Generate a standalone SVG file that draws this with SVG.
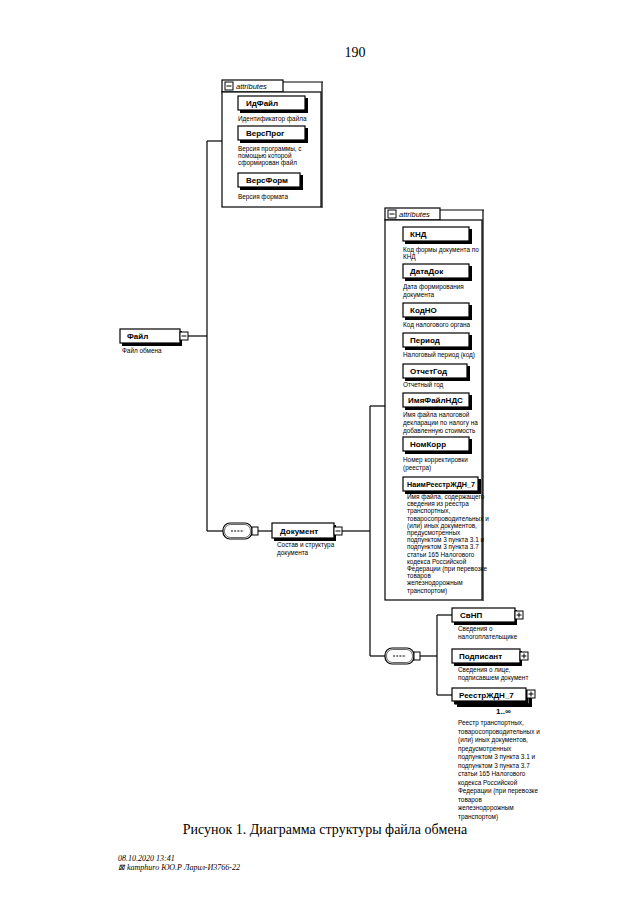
<svg xmlns="http://www.w3.org/2000/svg" width="640" height="905" viewBox="0 0 640 905">
<defs>
<style>
.bg{fill:#fff}
.ln{stroke:#000;stroke-width:1.2;fill:none}
.box{fill:#fff;stroke:#000;stroke-width:1.2}
.sh{fill:#000}
.lbl{font-family:"Liberation Sans",Arial,sans-serif;font-weight:bold;font-size:8px;fill:#000}
.desc{font-family:"Liberation Sans",Arial,sans-serif;font-size:6.4px;fill:#000}
.tab{font-family:"Liberation Sans",Arial,sans-serif;font-style:italic;font-size:7.5px;fill:#000}
.grp{fill:#fff;stroke:#000;stroke-width:1.2}
.serif{font-family:"Liberation Serif","Times New Roman",serif;fill:#000}
</style>
<g id="minus"><rect x="0" y="0" width="8" height="8" fill="#fff" stroke="#000" stroke-width="1"/><line x1="1.5" y1="4" x2="6.5" y2="4" stroke="#000" stroke-width="1"/></g>
<g id="plus"><rect x="0" y="0" width="8" height="8" fill="#fff" stroke="#000" stroke-width="1"/><line x1="1.5" y1="4" x2="6.5" y2="4" stroke="#000" stroke-width="1"/><line x1="4" y1="1.5" x2="4" y2="6.5" stroke="#000" stroke-width="1"/></g>
<g id="seq"><rect x="0" y="0" width="29" height="16" rx="7" ry="7" fill="#fff" stroke="#000" stroke-width="1.2"/><rect x="1.5" y="1.5" width="26" height="13" rx="6" ry="6" fill="none" stroke="#000" stroke-width="0.6"/><line x1="8" y1="8" x2="21" y2="8" stroke="#000" stroke-width="1" stroke-dasharray="2,1.2"/><rect x="29" y="4" width="6" height="8" fill="#fff" stroke="#000" stroke-width="1"/></g>
</defs>
<rect class="bg" x="0" y="0" width="640" height="905"/>

<text class="serif" x="355" y="57" font-size="14" text-anchor="middle">190</text>

<g id="connectors">
<line class="ln" x1="188" y1="336" x2="207" y2="336"/>
<line class="ln" x1="207" y1="141" x2="207" y2="531"/>
<line class="ln" x1="207" y1="141" x2="222" y2="141"/>
<line class="ln" x1="207" y1="531" x2="223" y2="531"/>
<line class="ln" x1="258" y1="531" x2="272" y2="531"/>
<line class="ln" x1="342" y1="531" x2="370" y2="531"/>
<line class="ln" x1="370" y1="406" x2="370" y2="656"/>
<line class="ln" x1="370" y1="406" x2="385" y2="406"/>
<line class="ln" x1="370" y1="656" x2="385" y2="656"/>
<line class="ln" x1="420" y1="656" x2="437" y2="656"/>
<line class="ln" x1="437" y1="615" x2="437" y2="695"/>
<line class="ln" x1="437" y1="615" x2="452" y2="615"/>
<line class="ln" x1="437" y1="695" x2="452" y2="695"/>
</g>

<g id="attrs1">
<rect class="grp" x="222" y="80" width="61" height="12"/>
<use href="#minus" x="225" y="82"/>
<text class="tab" x="236" y="89">attributes</text>
<rect class="grp" x="222" y="92" width="99" height="115"/>
<line class="ln" x1="283" y1="82" x2="323" y2="82" stroke-width="1.6"/>
<line class="ln" x1="322" y1="82" x2="322" y2="208" stroke-width="1.6"/>
</g>

<g id="IdFile">
<rect class="sh" x="240" y="98" width="68" height="15"/>
<rect class="box" x="238" y="96" width="67" height="14"/>
<text class="lbl" x="246" y="106">ИдФайл</text>
<text class="desc" x="238" y="121">Идентификатор файла</text>
</g>
<g id="VersProg">
<rect class="sh" x="240" y="128" width="68" height="15"/>
<rect class="box" x="238" y="126" width="67" height="14"/>
<text class="lbl" x="246" y="136">ВерсПрог</text>
<text class="desc" x="238" y="151">Версия программы, с</text>
<text class="desc" x="238" y="158">помощью которой</text>
<text class="desc" x="238" y="165">сформирован файл</text>
</g>
<g id="VersForm">
<rect class="sh" x="240" y="175" width="63" height="15"/>
<rect class="box" x="238" y="173" width="62" height="14"/>
<text class="lbl" x="246" y="183">ВерсФорм</text>
<text class="desc" x="238" y="199">Версия формата</text>
</g>

<g id="File">
<rect class="sh" x="122" y="331" width="60" height="15"/>
<rect class="box" x="120" y="329" width="60" height="14"/>
<text class="lbl" x="127" y="339">Файл</text>
<use href="#minus" x="180" y="332"/>
<text class="desc" x="122" y="353">Файл обмена</text>
</g>

<g id="seq1"><use href="#seq" x="223" y="523"/></g>

<g id="Document">
<rect class="sh" x="274" y="525" width="62" height="16"/>
<rect class="box" x="272" y="523" width="62" height="15"/>
<text class="lbl" x="280" y="534">Документ</text>
<use href="#minus" x="334" y="527"/>
<text class="desc" x="277" y="547">Состав и структура</text>
<text class="desc" x="277" y="555">документа</text>
</g>

<g id="attrs2">
<rect class="grp" x="385" y="208" width="55" height="12"/>
<use href="#minus" x="388" y="210"/>
<text class="tab" x="399" y="217">attributes</text>
<rect class="grp" x="385" y="220" width="97" height="380"/>
<line class="ln" x1="440" y1="210" x2="484" y2="210" stroke-width="1.6"/>
<line class="ln" x1="483" y1="210" x2="483" y2="601" stroke-width="1.6"/>
</g>

<g id="KND">
<rect class="sh" x="405" y="229" width="67" height="15"/>
<rect class="box" x="403" y="227" width="66" height="14"/>
<text class="lbl" x="410" y="237">КНД</text>
<text class="desc" x="403" y="252">Код формы документа по</text>
<text class="desc" x="403" y="259">КНД</text>
</g>
<g id="DataDok">
<rect class="sh" x="405" y="266" width="67" height="15"/>
<rect class="box" x="403" y="264" width="66" height="14"/>
<text class="lbl" x="410" y="274">ДатаДок</text>
<text class="desc" x="403" y="289">Дата формирования</text>
<text class="desc" x="403" y="297">документа</text>
</g>
<g id="KodNO">
<rect class="sh" x="405" y="305" width="67" height="15"/>
<rect class="box" x="403" y="303" width="66" height="14"/>
<text class="lbl" x="410" y="313">КодНО</text>
<text class="desc" x="403" y="327">Код налогового органа</text>
</g>
<g id="Period">
<rect class="sh" x="405" y="335" width="67" height="15"/>
<rect class="box" x="403" y="333" width="66" height="14"/>
<text class="lbl" x="410" y="343">Период</text>
<text class="desc" x="403" y="357">Налоговый период (код)</text>
</g>
<g id="OtchetGod">
<rect class="sh" x="405" y="366" width="65" height="15"/>
<rect class="box" x="403" y="364" width="64" height="14"/>
<text class="lbl" x="410" y="374">ОтчетГод</text>
<text class="desc" x="403" y="387">Отчетный год</text>
</g>
<g id="ImyaFaylNDS">
<rect class="sh" x="405" y="395" width="67" height="15"/>
<rect class="box" x="403" y="393" width="66" height="14"/>
<text class="lbl" x="408" y="403">ИмяФайлНДС</text>
<text class="desc" x="403" y="417">Имя файла налоговой</text>
<text class="desc" x="403" y="425">декларации по налогу на</text>
<text class="desc" x="403" y="433">добавленную стоимость</text>
</g>
<g id="NomKorr">
<rect class="sh" x="405" y="439" width="67" height="15"/>
<rect class="box" x="403" y="437" width="66" height="14"/>
<text class="lbl" x="410" y="447">НомКорр</text>
<text class="desc" x="403" y="462">Номер корректировки</text>
<text class="desc" x="403" y="470">(реестра)</text>
</g>
<g id="NaimReestrZhDN7">
<rect class="sh" x="405" y="479" width="76" height="15"/>
<rect class="box" x="403" y="477" width="75" height="14"/>
<text class="lbl" x="407" y="487" textLength="68" lengthAdjust="spacingAndGlyphs">НаимРеестрЖДН_7</text>
<text class="desc" x="407" y="499">Имя файла, содержащего</text>
<text class="desc" x="407" y="506.2">сведения из реестра</text>
<text class="desc" x="407" y="513.4">транспортных,</text>
<text class="desc" x="407" y="520.6">товаросопроводительных и</text>
<text class="desc" x="407" y="527.8">(или) иных документов,</text>
<text class="desc" x="407" y="535">предусмотренных</text>
<text class="desc" x="407" y="542.2">подпунктом 3 пункта 3.1 и</text>
<text class="desc" x="407" y="549.4">подпунктом 3 пункта 3.7</text>
<text class="desc" x="407" y="556.6">статьи 165 Налогового</text>
<text class="desc" x="407" y="563.8">кодекса Российской</text>
<text class="desc" x="407" y="571">Федерации (при перевозке</text>
<text class="desc" x="407" y="578.2">товаров</text>
<text class="desc" x="407" y="585.4">железнодорожным</text>
<text class="desc" x="407" y="592.6">транспортом)</text>
</g>

<g id="seq2"><use href="#seq" x="385" y="648"/></g>

<g id="SvNP">
<rect class="sh" x="454" y="610" width="63" height="15"/>
<rect class="box" x="452" y="608" width="63" height="14"/>
<text class="lbl" x="460" y="618">СвНП</text>
<use href="#plus" x="515" y="611"/>
<text class="desc" x="458" y="631">Сведения о</text>
<text class="desc" x="458" y="639">налогоплательщике</text>
</g>
<g id="Podpisant">
<rect class="sh" x="454" y="651" width="68" height="15"/>
<rect class="box" x="452" y="649" width="68" height="14"/>
<text class="lbl" x="459" y="659">Подписант</text>
<use href="#plus" x="520" y="652"/>
<text class="desc" x="458" y="672">Сведения о лице,</text>
<text class="desc" x="458" y="680">подписавшем документ</text>
</g>
<g id="ReestrZhDN7">
<rect class="sh" x="457" y="693" width="75" height="14"/>
<rect class="box" x="455" y="691" width="74" height="13"/>
<rect class="sh" x="454" y="690" width="74" height="14"/>
<rect class="box" x="452" y="688" width="74" height="13"/>
<text class="lbl" x="459" y="698">РеестрЖДН_7</text>
<use href="#plus" x="527" y="690"/>
<text class="lbl" x="496" y="714" font-size="7.5">1..∞</text>
<text class="desc" x="458" y="725">Реестр транспортных,</text>
<text class="desc" x="458" y="733.5">товаросопроводительных и</text>
<text class="desc" x="458" y="742">(или) иных документов,</text>
<text class="desc" x="458" y="750.5">предусмотренных</text>
<text class="desc" x="458" y="759">подпунктом 3 пункта 3.1 и</text>
<text class="desc" x="458" y="767.5">подпунктом 3 пункта 3.7</text>
<text class="desc" x="458" y="776">статьи 165 Налогового</text>
<text class="desc" x="458" y="784.5">кодекса Российской</text>
<text class="desc" x="458" y="793">Федерации (при перевозке</text>
<text class="desc" x="458" y="801.5">товаров</text>
<text class="desc" x="458" y="810">железнодорожным</text>
<text class="desc" x="458" y="818.5">транспортом)</text>
</g>

<text class="serif" x="325" y="834" font-size="14" text-anchor="middle">Рисунок 1. Диаграмма структуры файла обмена</text>
<text class="serif" x="118" y="861" font-size="8" font-style="italic">08.10.2020 13:41</text>
<text class="serif" x="118" y="870" font-size="8" font-style="italic">⊠ kamphuro ЮО.Р Ларил-И3766-22</text>
</svg>
